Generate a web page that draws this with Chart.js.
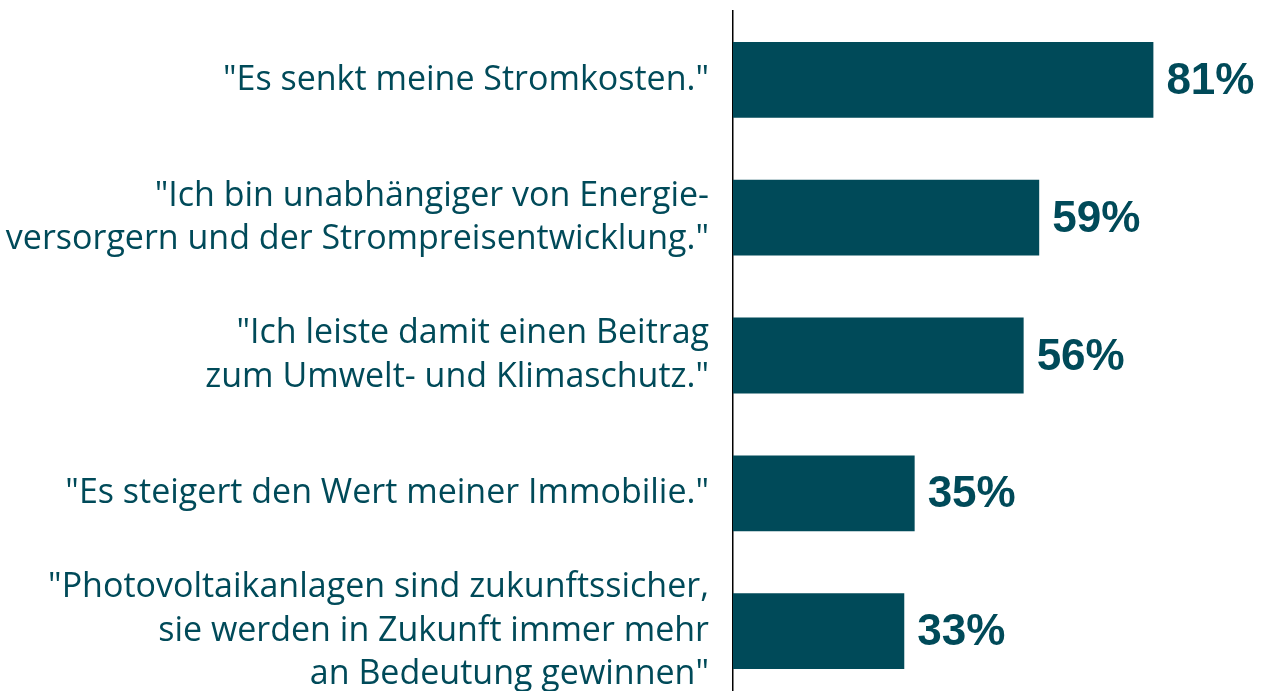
<!DOCTYPE html>
<html>
<head>
<meta charset="utf-8">
<script src="https://cdn.jsdelivr.net/npm/chart.js@4"></script>
<style>
  html, body { margin: 0; padding: 0; background: #fff; overflow: hidden; }
  #wrap { width: 1263px; height: 700px; }
</style>
</head>
<body>
<div id="wrap"><canvas id="chart" width="1263" height="700"></canvas></div>
<script>
// reasons for buying a PV system, share of respondents
const reasons = [
    ['"Es senkt meine Stromkosten."'],
    ['"Ich bin unabhängiger von Energie-', 'versorgern und der Strompreisentwicklung."'],
    ['"Ich leiste damit einen Beitrag', 'zum Umwelt- und Klimaschutz."'],
    ['"Es steigert den Wert meiner Immobilie."'],
    ['"Photovoltaikanlagen sind zukunftssicher,', 'sie werden in Zukunft immer mehr', 'an Bedeutung gewinnen"']
];
const shares = [81, 59, 56, 35, 33];

const teal = '#004a59';

// draws the "81%" labels next to each bar
const valueLabels = {
    id: 'valueLabels',
    afterDatasetsDraw(chart) {
        let ctx = chart.ctx;
        let meta = chart.getDatasetMeta(0);
        ctx.save();
        ctx.fillStyle = teal;
        ctx.font = 'bold 44px "Liberation Sans", Arial, sans-serif';
        ctx.textBaseline = 'middle';
        ctx.textAlign = 'left';
        meta.data.forEach(function (bar, i) {
            ctx.fillText(shares[i] + '%', bar.x + 13, bar.y + 2);
        });
        ctx.restore();
    }
};

new Chart(document.getElementById('chart').getContext('2d'), {
    type: 'bar',
    data: {
        labels: reasons,
        datasets: [{
            data: shares,
            backgroundColor: teal,
            barPercentage: 0.55,
            categoryPercentage: 1
        }]
    },
    options: {
        indexAxis: 'y',
        responsive: false,
        animation: false,
        layout: { padding: { top: 11, right: 11, bottom: 0, left: 0 } },
        plugins: {
            legend: { display: false },
            tooltip: { enabled: false }
        },
        scales: {
            x: {
                display: false,
                min: 0,
                max: 100
            },
            y: {
                grid: { display: false },
                border: { display: true, color: '#000', width: 1.5 },
                afterFit: function (scale) {
                    // fixed label column, no extra room for the multi-line end labels
                    scale.width = 733;
                    scale.paddingTop = 0;
                    scale.paddingBottom = 0;
                },
                ticks: {
                    color: teal,
                    padding: 16,
                    font: { family: 'Open Sans', size: 34, lineHeight: 1.28 }
                }
            }
        }
    },
    plugins: [valueLabels]
});
</script>
</body>
</html>
